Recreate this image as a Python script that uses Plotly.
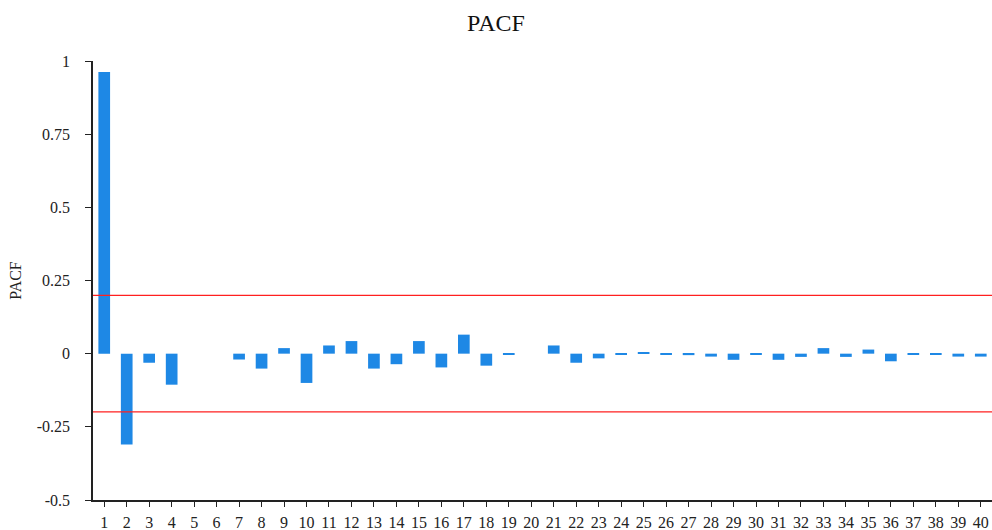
import plotly.graph_objects as go

# Partial autocorrelation by lag
lags = list(range(1, 41))
pacf_values = [
    0.962, -0.310, -0.031, -0.106, 0.0, 0.0, -0.020, -0.051, 0.019, -0.100,
    0.028, 0.043, -0.051, -0.036, 0.043, -0.047, 0.065, -0.041, -0.004, 0.0,
    0.028, -0.031, -0.016, -0.004, 0.004, -0.004, -0.005, -0.010, -0.021, -0.004,
    -0.021, -0.011, 0.019, -0.011, 0.014, -0.026, -0.004, -0.004, -0.010, -0.010,
]
conf_bound = 0.199
y_ticks = [-0.5, -0.25, 0, 0.25, 0.5, 0.75, 1]
y_tick_text = ["-0.5", "-0.25", "0", "0.25", "0.5", "0.75", "1"]

serif = "Liberation Serif"

fig = go.Figure()
fig.add_trace(go.Bar(
    x=[str(v) for v in lags],
    y=pacf_values,
    marker=dict(color="#1E88E5", line=dict(width=0)),
    hoverinfo="x+y",
))

for b in (conf_bound, -conf_bound):
    fig.add_shape(
        type="line", xref="paper", x0=0, x1=1, yref="y", y0=b, y1=b,
        line=dict(color="#ff2020", width=1.2),
    )

fig.update_layout(
    width=992, height=530,
    margin=dict(l=93, r=0, t=61, b=30),
    paper_bgcolor="white", plot_bgcolor="white",
    bargap=0.48,
    showlegend=False,
    title=dict(text="PACF", x=0.5, xref="container", xanchor="center",
               y=0.958, yref="container", yanchor="middle",
               font=dict(family=serif, size=24, color="#111")),
    font=dict(family=serif, size=16, color="#222"),
)
fig.update_xaxes(
    type="category",
    showline=True, linecolor="#222", linewidth=1.5,
    ticks="outside", ticklen=5, tickwidth=1.2, tickcolor="#222",
    showgrid=False, zeroline=False,
    ticklabelstandoff=2,
    tickfont=dict(family=serif, size=16, color="#222"),
    tickangle=0,
)
fig.update_yaxes(
    range=[-0.5, 1],
    tickvals=y_ticks, ticktext=y_tick_text,
    showline=True, linecolor="#222", linewidth=1.5,
    ticks="outside", ticklen=6, tickwidth=1.2, tickcolor="#222",
    showgrid=False, zeroline=False,
    ticklabelstandoff=12,
    tickfont=dict(family=serif, size=16, color="#222"),
    title=dict(text="PACF", font=dict(family=serif, size=16, color="#222"), standoff=11),
)

fig.write_html("out.html")
